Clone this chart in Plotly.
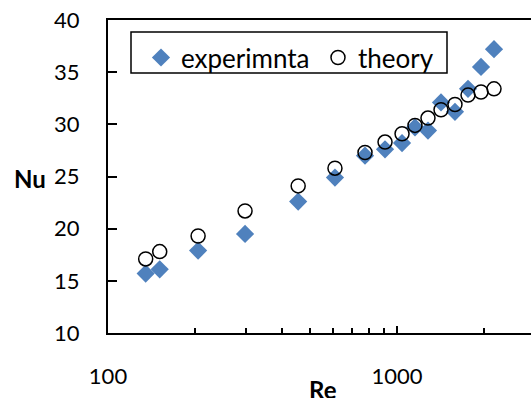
import plotly.graph_objects as go

# Data
re_vals = [135, 151, 205, 298, 455, 610, 775, 909, 1041, 1154, 1280, 1420, 1587, 1761, 1953, 2166]
nu_experimental = [15.7, 16.1, 17.9, 19.5, 22.6, 24.9, 27.0, 27.6, 28.2, 29.7, 29.4, 32.1, 31.2, 33.4, 35.5, 37.2]
nu_theory = [17.1, 17.8, 19.3, 21.7, 24.1, 25.8, 27.3, 28.3, 29.1, 29.9, 30.6, 31.4, 31.9, 32.8, 33.1, 33.4]

x_tickvals = [100, 1000]
x_ticktext = ["100", "1000"]
x_minor_vals = [200, 300, 400, 500, 600, 700, 800, 900, 2000]
y_tickvals = [10, 15, 20, 25, 30, 35, 40]

series_names = ["experimnta", "theory"]

FONT = "Lato, Carlito, Calibri, sans-serif"

fig = go.Figure()
fig.add_trace(go.Scatter(
    x=re_vals, y=nu_experimental, mode="markers", name=series_names[0],
    marker=dict(symbol="diamond", size=14, color="#4F81BD", line=dict(width=0)),
))
fig.add_trace(go.Scatter(
    x=re_vals, y=nu_theory, mode="markers", name=series_names[1],
    marker=dict(symbol="circle-open", size=14, color="black", line=dict(width=1.5, color="black")),
))

fig.update_layout(
    width=531, height=398,
    margin=dict(l=108, r=0, t=20, b=65),
    paper_bgcolor="white", plot_bgcolor="white",
    font=dict(family=FONT, size=22, color="black"),
    showlegend=True,
    legend=dict(
        orientation="h", x=0.078, y=0.955, xanchor="left", yanchor="top",
        font=dict(family=FONT, size=26, color="black"),
        bgcolor="rgba(0,0,0,0)", borderwidth=0,
        entrywidth=132, entrywidthmode="pixels",
    ),
    shapes=[dict(
        type="rect", xref="paper", yref="paper",
        x0=(131 - 108) / 423, x1=(447 - 108) / 423,
        y0=(333 - 73) / 313, y1=(333 - 32) / 313,
        line=dict(color="black", width=1.5), fillcolor="rgba(0,0,0,0)",
    )],
    annotations=[
        dict(text="<b>Nu</b>", xref="paper", yref="paper", x=(30 - 108) / 423, y=(333 - 178) / 313,
             showarrow=False, xanchor="center", yanchor="middle", font=dict(family=FONT, size=24)),
        dict(text="<b>Re</b>", xref="paper", yref="paper", x=(323 - 108) / 423, y=(333 - 389) / 313,
             showarrow=False, xanchor="center", yanchor="middle", font=dict(family=FONT, size=24)),
    ],
)

fig.update_xaxes(
    type="log", range=[2, 2 + 423 / 289],
    tickmode="array", tickvals=x_tickvals, ticktext=x_ticktext,
    ticks="inside", ticklen=7, tickwidth=1.5, tickcolor="black",
    minor=dict(ticks="inside", ticklen=5, tickwidth=1.5, tickcolor="black",
               tickmode="array", tickvals=x_minor_vals, showgrid=False),
    showline=True, linecolor="black", linewidth=2, mirror=True,
    showgrid=False, zeroline=False, ticklabelstandoff=23,
    tickfont=dict(family=FONT, size=22, color="black"),
)
fig.update_yaxes(
    range=[10, 40], tickmode="array", tickvals=y_tickvals,
    ticks="inside", ticklen=9, tickwidth=1.5, tickcolor="black",
    showline=True, linecolor="black", linewidth=2, mirror=False,
    showgrid=False, zeroline=False, ticklabelstandoff=22,
    tickfont=dict(family=FONT, size=22, color="black"),
)

fig.write_html("out.html")
